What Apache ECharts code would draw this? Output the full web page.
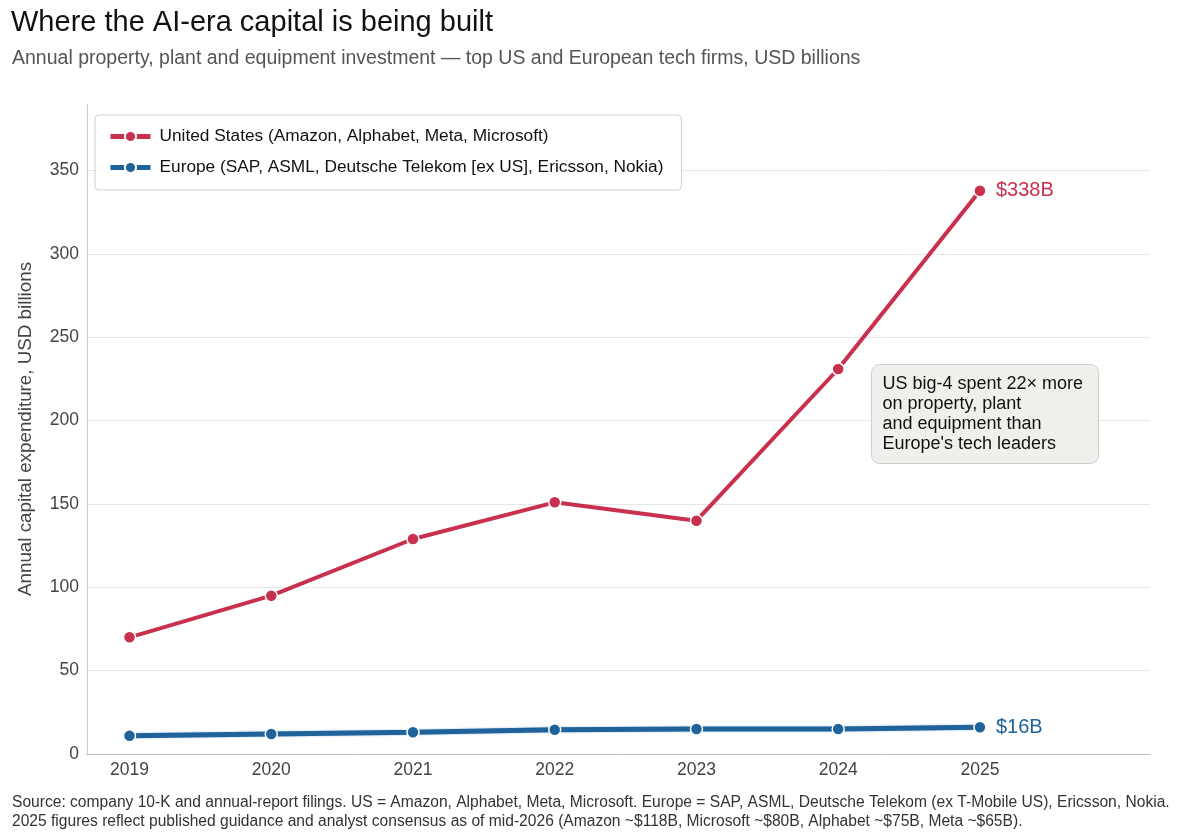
<!DOCTYPE html>
<html>
<head>
<meta charset="utf-8">
<script src="https://cdn.jsdelivr.net/npm/echarts@6/dist/echarts.min.js"></script>
<style>
  html, body { margin: 0; padding: 0; background: #fff; }
  #chart { width: 1200px; height: 839px; }
</style>
</head>
<body>
<div id="chart"></div>
<script>
// data
var years = [2019, 2020, 2021, 2022, 2023, 2024, 2025];
var usCapex = [70, 95, 129, 151, 140, 231, 338];
var euCapex = [11, 12, 13, 14.5, 15, 15, 16];
var yTicks = [0, 50, 100, 150, 200, 250, 300, 350];

var usColor = '#c8304e';
var euColor = '#20629a';
var font = '"Liberation Sans", Arial, sans-serif';

function pairs(vals) {
  var out = [];
  for (var i = 0; i < years.length; i++) out.push([years[i], vals[i]]);
  return out;
}

var chart = echarts.init(document.getElementById('chart'));

var option = {
  backgroundColor: '#fff',
  textStyle: { fontFamily: font },
  title: [
    {
      text: 'Where the AI-era capital is being built',
      left: 11, top: 8, padding: 0,
      textStyle: { fontSize: 29, fontWeight: 'normal', color: '#111', fontFamily: font }
    },
    {
      text: 'Annual property, plant and equipment investment \u2014 top US and European tech firms, USD billions',
      left: 12, top: 49, padding: 0,
      textStyle: { fontSize: 19.5, fontWeight: 'normal', color: '#555', fontFamily: font }
    },
    {
      text: 'Source: company 10-K and annual-report filings. US = Amazon, Alphabet, Meta, Microsoft. Europe = SAP, ASML, Deutsche Telekom (ex T-Mobile US), Ericsson, Nokia.\n2025 figures reflect published guidance and analyst consensus as of mid-2026 (Amazon ~$118B, Microsoft ~$80B, Alphabet ~$75B, Meta ~$65B).',
      left: 12, top: 793, padding: 0,
      textStyle: { fontSize: 15.6, fontWeight: 'normal', color: '#333', lineHeight: 19, fontFamily: font }
    }
  ],
  legend: {
    orient: 'vertical',
    left: 95, top: 115,
    padding: [13, 18, 14, 13],
    itemGap: 14,
    itemWidth: 40, itemHeight: 14,
    backgroundColor: '#fff',
    borderColor: '#cfcfcf',
    borderWidth: 1,
    borderRadius: 4,
    lineStyle: { width: 5 },
    textStyle: { fontSize: 17.3, color: '#111', fontFamily: font, padding: [0, 0, 0, 4] },
    data: ['United States (Amazon, Alphabet, Meta, Microsoft)',
           'Europe (SAP, ASML, Deutsche Telekom [ex US], Ericsson, Nokia)']
  },
  grid: { left: 87, right: 50, top: 104, bottom: 85 },
  xAxis: {
    type: 'value',
    min: 2018.7, max: 2026.2,
    axisLine: { show: true, lineStyle: { color: '#bbb', width: 1 } },
    axisTick: { show: false },
    splitLine: { show: false },
    axisLabel: {
      customValues: years,
      formatter: function (v) { return String(v); },
      fontSize: 17.5, color: '#444', margin: 7, fontFamily: font
    }
  },
  yAxis: {
    type: 'value',
    min: 0, max: 390, interval: 50,
    name: 'Annual capital expenditure, USD billions',
    nameLocation: 'middle',
    nameGap: 52,
    nameTextStyle: { fontSize: 18.8, color: '#444', fontFamily: font },
    axisLine: { show: true, lineStyle: { color: '#ccc', width: 1 } },
    axisTick: { show: false },
    splitLine: { show: true, showMinLine: false, showMaxLine: false, lineStyle: { color: '#e6e6e6', width: 1 } },
    axisLabel: {
      customValues: yTicks,
      fontSize: 17.5, color: '#444', margin: 8, fontFamily: font
    }
  },
  series: [
    {
      name: 'United States (Amazon, Alphabet, Meta, Microsoft)',
      type: 'line',
      data: pairs(usCapex),
      color: usColor,
      lineStyle: { width: 4, color: usColor },
      symbol: 'circle', symbolSize: 12,
      itemStyle: { color: usColor, borderColor: '#fff', borderWidth: 1.5 },
      endLabel: {
        show: true, formatter: '$338B', color: usColor,
        fontSize: 20, distance: 16, fontFamily: font
      },
      z: 3
    },
    {
      name: 'Europe (SAP, ASML, Deutsche Telekom [ex US], Ericsson, Nokia)',
      type: 'line',
      data: pairs(euCapex),
      color: euColor,
      lineStyle: { width: 5, color: euColor, shadowColor: 'rgba(120,170,220,0.8)', shadowBlur: 2 },
      symbol: 'circle', symbolSize: 12,
      itemStyle: { color: euColor, borderColor: '#fff', borderWidth: 1.5 },
      endLabel: {
        show: true, formatter: '$16B', color: euColor,
        fontSize: 20, distance: 16, fontFamily: font
      },
      z: 3
    }
  ],
  graphic: [
    {
      type: 'group',
      left: 871, top: 364,
      z: 100,
      children: [
        {
          type: 'rect',
          z: 100,
          shape: { x: 0, y: 0, width: 227, height: 99, r: 8 },
          style: { fill: '#f1efeb', stroke: '#cfcfcf', lineWidth: 1 }
        },
        {
          type: 'text',
          z: 101,
          left: 11, top: 10,
          style: {
            text: "US big-4 spent 22\u00d7 more\non property, plant\nand equipment than\nEurope's tech leaders",
            fontSize: 18, lineHeight: 20, fill: '#111', fontFamily: font
          }
        }
      ]
    }
  ]
};

chart.setOption(option);
</script>
</body>
</html>
